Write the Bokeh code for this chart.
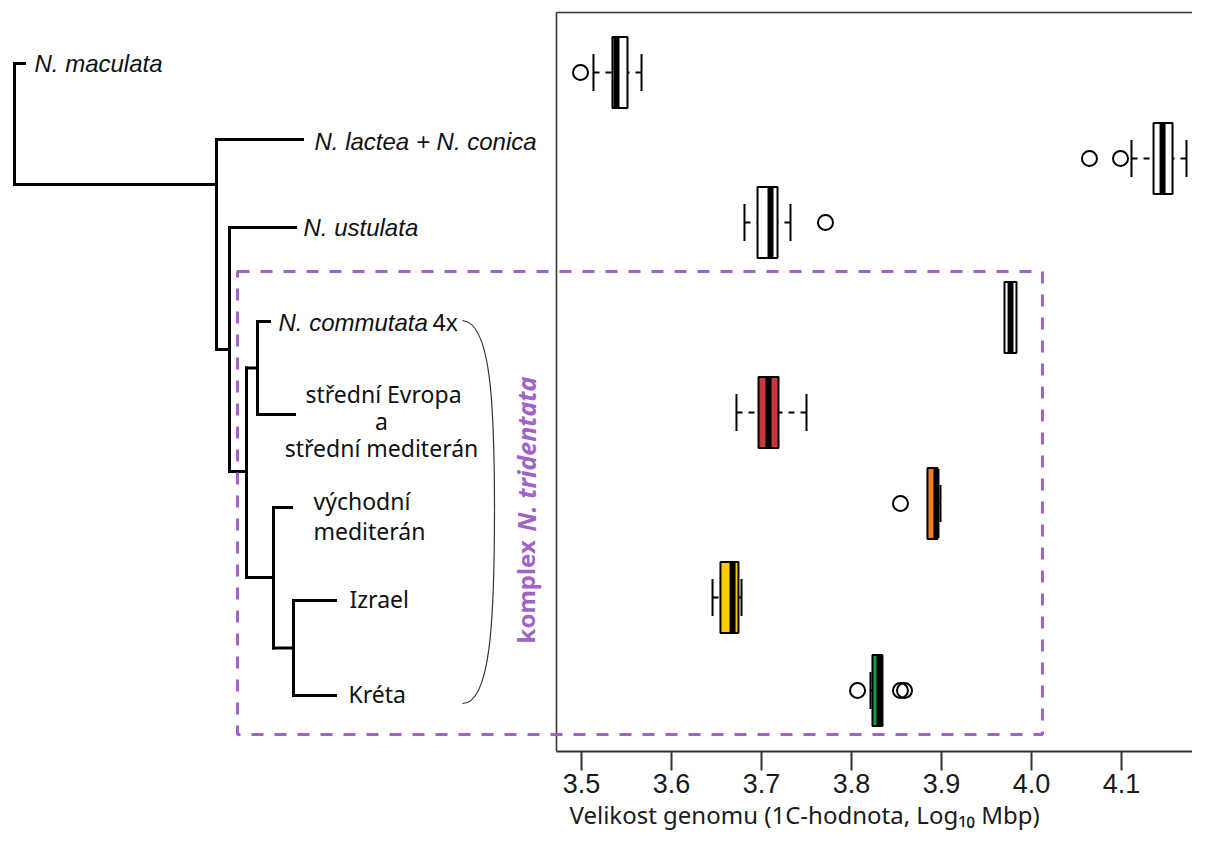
import numpy as np
from bokeh.plotting import figure
from bokeh.models import Range1d, LinearAxis, FixedTicker, Title, NumeralTickFormatter, ColumnDataSource
from bokeh.core.properties import value
from bokeh.embed import file_html
from bokeh.resources import INLINE

# ---------------- data: genome size box plots (log10 Mbp) ----------------
groups = ["N. maculata", "N. lactea + N. conica", "N. ustulata", "N. commutata 4x",
          "střední Evropa a střední mediterán", "východní mediterán", "Izrael", "Kréta"]
whisk_lo = [3.5133, 4.1111, 3.6811, 3.9700, 3.6722, 3.8844, 3.6456, 3.8211]
q1       = [3.5344, 4.1356, 3.6956, 3.9700, 3.6967, 3.8844, 3.6544, 3.8233]
median   = [3.5389, 4.1456, 3.7100, 3.9767, 3.7078, 3.8944, 3.6678, 3.8311]
q3       = [3.5511, 4.1567, 3.7178, 3.9833, 3.7189, 3.8956, 3.6744, 3.8344]
whisk_hi = [3.5667, 4.1722, 3.7322, 3.9833, 3.7500, 3.8989, 3.6778, 3.8344]
outliers = [[3.4989], [4.0644, 4.0989], [3.7711], [], [], [3.8544], [], [3.8067, 3.8544, 3.8589]]
box_fill = ["white", "white", "white", "white", "#c8373b", "#ee7f22", "#ffcc00", "#1c9a4e"]
x_ticks = [3.5, 3.6, 3.7, 3.8, 3.9, 4.0, 4.1]
x_title = "Velikost genomu (1C-hodnota, Log₁₀ Mbp)"

# ---------------- data: cladogram ----------------
leaf_labels = ["N. maculata", "N. lactea + N. conica", "N. ustulata", "N. commutata"]
leaf_y = [63, 139, 227, 321, 414, 507, 600, 695]
leaf_tip = [24, 302, 295, 269, 294, 291, 335, 335]
# internal nodes: name, depth, stem y, children
nodes = [
    ("n6", 293, 647.5, ["L6", "L7"]),
    ("n5", 273, 577, ["L5", "n6"]),
    ("n4", 257, 367.5, ["L3", "L4"]),
    ("n3", 246, 471, ["n4", "n5"]),
    ("n2", 229, 349, ["L2", "n3"]),
    ("n1", 216, 184, ["L1", "n2"]),
    ("root", 14, None, ["L0", "n1"]),
]
region_lines = ["střední Evropa", "a", "střední mediterán"]
east_lines = ["východní", "mediterán"]
tip_labels = ["Izrael", "Kréta"]

# ---------------- layout constants ----------------
row_y = [72, 158, 222, 317, 412, 503, 597, 690]
box_h = 71
cap_h = 37
panel_left_g = 3.4722
panel_top = 12
PURPLE = "#a163c7"

W, H = 1192, 830
FRAME_B = 751
g_start = 3.5 - 581 / 900.0
g_end = 3.5 + (W - 581) / 900.0

p = figure(width=W, height=H, output_backend="svg", toolbar_location=None,
           x_range=Range1d(0, W), y_range=Range1d(FRAME_B, 0),
           x_axis_type=None, y_axis_type=None,
           min_border_left=0, min_border_right=0, min_border_top=0,
           min_border_bottom=H - FRAME_B)
p.outline_line_color = None
p.background_fill_color = "white"
p.border_fill_color = "white"
p.extra_x_ranges = {"g": Range1d(g_start, g_end)}

ax = LinearAxis(x_range_name="g", ticker=FixedTicker(ticks=x_ticks),
                formatter=NumeralTickFormatter(format="0.0"),
                bounds=(panel_left_g, g_end))
ax.axis_line_width = 2
ax.axis_line_color = "#333333"
ax.major_tick_out = 19
ax.major_tick_in = 0
ax.major_tick_line_width = 2
ax.major_tick_line_color = "#333333"
ax.minor_tick_out = 0
ax.minor_tick_in = 0
ax.major_label_standoff = 3
ax.major_label_text_font = "'Liberation Sans Narrow', 'Liberation Sans', sans-serif"
ax.major_label_text_font_size = "27px"
ax.major_label_text_color = "#1a1a1a"
p.add_layout(ax, "below")

ttl = Title(text=x_title, align="left", offset=569, standoff=0,
            text_font="Noto Sans", text_font_size="24px", text_font_style="normal",
            text_color="#1a1a1a")
p.add_layout(ttl, "below")

# panel frame (left and top)
p.segment(x0=[panel_left_g, panel_left_g], y0=[panel_top, panel_top],
          x1=[panel_left_g, g_end], y1=[FRAME_B, panel_top],
          line_color="#333333", line_width=1.6, x_range_name="g")

# ---------------- box plots ----------------
yt = [y - box_h / 2 for y in row_y]
yb = [y + box_h / 2 for y in row_y]
src = ColumnDataSource(dict(y=row_y, yt=yt, yb=yb, lo=whisk_lo, q1=q1, med=median,
                            q3=q3, hi=whisk_hi, fill=box_fill))
# whiskers (dashed, drawn from whisker end toward the box)
p.segment(x0="lo", y0="y", x1="q1", y1="y", source=src, line_color="black",
          line_width=2, line_dash="6 6", x_range_name="g")
p.segment(x0="hi", y0="y", x1="q3", y1="y", source=src, line_color="black",
          line_width=2, line_dash="6 6", x_range_name="g")
# caps
cx, cy = [], []
for lo, a, b, hi, y in zip(whisk_lo, q1, q3, whisk_hi, row_y):
    if lo < a:
        cx.append(lo); cy.append(y)
    if hi > b:
        cx.append(hi); cy.append(y)
p.segment(x0=cx, y0=[y - cap_h / 2 for y in cy], x1=cx, y1=[y + cap_h / 2 for y in cy],
          line_color="black", line_width=2, x_range_name="g")
# boxes
p.quad(left="q1", right="q3", top="yt", bottom="yb", source=src, fill_color="fill",
       line_color="black", line_width=2, x_range_name="g")
# medians
p.rect(x="med", y="y", width=6, width_units="screen", height=box_h - 2, source=src,
       fill_color="black", line_color=None, x_range_name="g")
# outliers
ox, oy = [], []
for vals, y in zip(outliers, row_y):
    for v in vals:
        ox.append(v); oy.append(y)
p.scatter(x=ox, y=oy, marker="circle", size=15, fill_color=None, line_color="black",
          line_width=2, x_range_name="g")

# ---------------- cladogram ----------------
pos = {f"L{i}": (leaf_tip[i], leaf_y[i]) for i in range(len(leaf_y))}
for name, depth, y, ch in nodes:
    pos[name] = (depth, y)
sx0, sy0, sx1, sy1 = [], [], [], []
for name, depth, y, ch in nodes:
    ys = [pos[c][1] for c in ch]
    sx0.append(depth); sy0.append(min(ys)); sx1.append(depth); sy1.append(max(ys))
    for c in ch:
        sx0.append(depth); sy0.append(pos[c][1]); sx1.append(pos[c][0]); sy1.append(pos[c][1])
p.segment(x0=sx0, y0=sy0, x1=sx1, y1=sy1, line_color="black", line_width=3, line_cap="square")

ital = "'Liberation Sans', Arial, sans-serif"
p.text(x=[34, 314, 303, 278], y=[63, 141, 227, 322],
       text=leaf_labels, text_font=value(ital), text_font_style="italic",
       text_font_size="24px", text_align="left", text_baseline="middle", text_color="#111111")
p.text(x=[432], y=[322], text=["4x"], text_font=value(ital),
       text_font_size="24px", text_align="left", text_baseline="middle", text_color="#111111")
p.text(x=[383, 381, 381], y=[393, 420, 447], text=region_lines, text_font=value("Noto Sans"),
       text_font_size="23px", text_align="center", text_baseline="middle", text_color="#111111")
p.text(x=[313, 313], y=[500, 530], text=east_lines, text_font=value("Noto Sans"),
       text_font_size="23px", text_align="left", text_baseline="middle", text_color="#111111")
p.text(x=[349, 348], y=[598, 693], text=tip_labels, text_font=value("Noto Sans"),
       text_font_size="23px", text_align="left", text_baseline="middle", text_color="#111111")

# bracket
p.bezier(x0=[462, 494], y0=[320, 510], x1=[494, 462], y1=[510, 703],
         cx0=[490, 494], cy0=[322, 620], cx1=[494, 490], cy1=[400, 703],
         line_color="#333333", line_width=1.2)

# complex label (rotated)
p.text(x=[525], y=[643], text=["komplex"], angle=np.pi / 2, text_font=value("Noto Sans"),
       text_font_style="bold", text_font_size="24px", text_align="left",
       text_baseline="middle", text_color=PURPLE)
p.text(x=[525], y=[531], text=["N. tridentata"], angle=np.pi / 2, text_font=value("Noto Sans"),
       text_font_style="bold italic", text_font_size="25px", text_align="left",
       text_baseline="middle", text_color=PURPLE)

# dashed complex outline
p.quad(left=[237], right=[1042], top=[271], bottom=[734], fill_color=None,
       line_color=PURPLE, line_width=3, line_dash="12 11")

open("out.html", "w").write(file_html(p, INLINE))
